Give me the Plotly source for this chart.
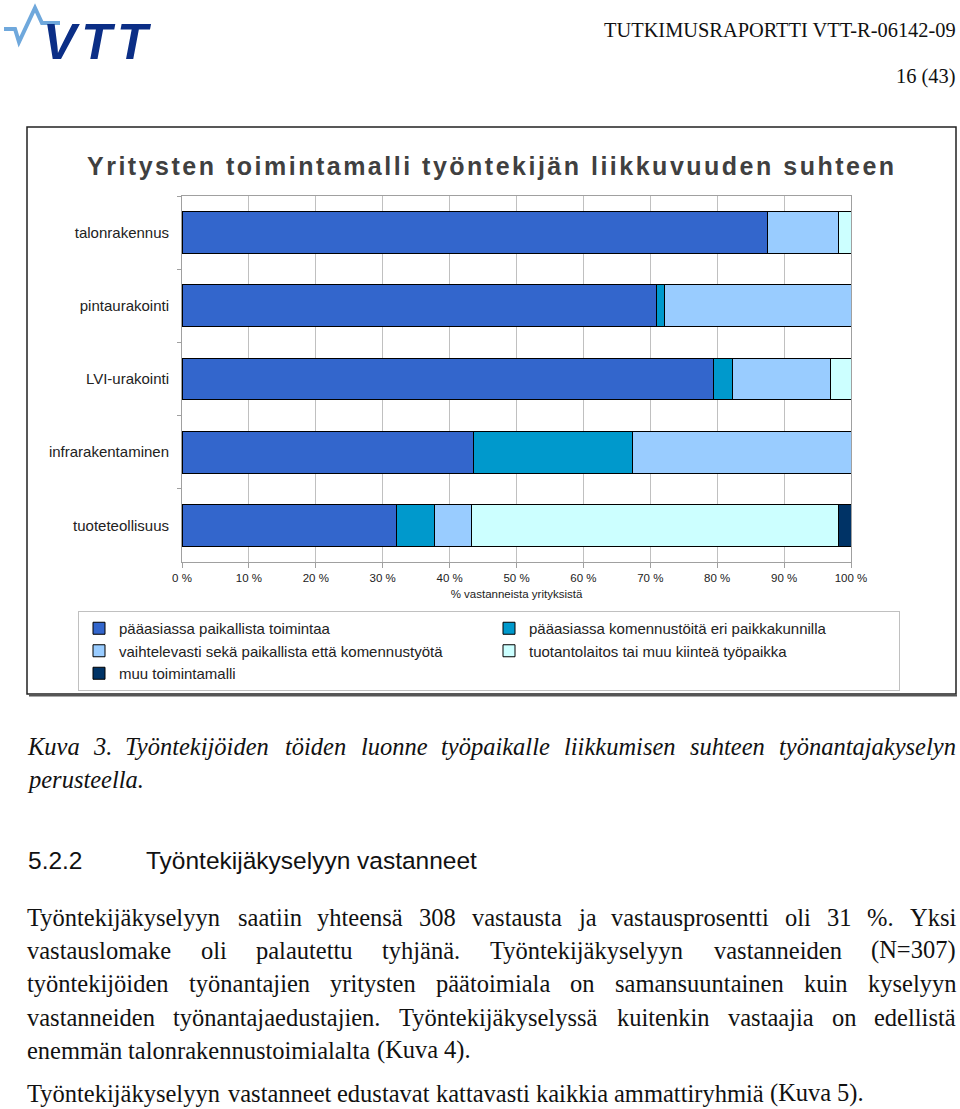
import plotly.graph_objects as go

# ---------------- data ----------------
categories = ["talonrakennus", "pintaurakointi", "LVI-urakointi", "infrarakentaminen", "tuoteteollisuus"]
series_names = [
    "pääasiassa paikallista toimintaa",
    "pääasiassa komennustöitä eri paikkakunnilla",
    "vaihtelevasti sekä paikallista että komennustyötä",
    "tuotantolaitos tai muu kiinteä työpaikka",
    "muu toimintamalli",
]
paikallista = [87.5, 71.0, 79.4, 43.5, 32.0]
komennus = [0.0, 1.1, 2.9, 23.9, 5.7]
vaihtelevasti = [10.6, 27.9, 14.7, 32.6, 5.6]
tuotantolaitos = [1.9, 0.0, 3.0, 0.0, 54.8]
muu = [0.0, 0.0, 0.0, 0.0, 1.9]
series_values = [paikallista, komennus, vaihtelevasti, tuotantolaitos, muu]
colors = ["#3366CC", "#0099CC", "#99CCFF", "#CCFFFF", "#003366"]
tick_vals = [0, 10, 20, 30, 40, 50, 60, 70, 80, 90, 100]
tick_labels = ["0 %", "10 %", "20 %", "30 %", "40 %", "50 %", "60 %", "70 %", "80 %", "90 %", "100 %"]

chart_title = "Yritysten toimintamalli työntekijän liikkuvuuden suhteen"
x_title = "% vastanneista yrityksistä"
header_code = "TUTKIMUSRAPORTTI VTT-R-06142-09"
header_page = "16 (43)"
caption_lines = [
    "Kuva 3. Työntekijöiden töiden luonne työpaikalle liikkumisen suhteen työnantajakyselyn",
    "perusteella.",
]
section_no = "5.2.2"
section_title = "Työntekijäkyselyyn vastanneet"
body_lines = [
    "Työntekijäkyselyyn saatiin yhteensä 308 vastausta ja vastausprosentti oli 31 %. Yksi",
    "vastauslomake oli palautettu tyhjänä. Työntekijäkyselyyn vastanneiden (N=307)",
    "työntekijöiden työnantajien yritysten päätoimiala on samansuuntainen kuin kyselyyn",
    "vastanneiden työnantajaedustajien. Työntekijäkyselyssä kuitenkin vastaajia on edellistä",
    "enemmän talonrakennustoimialalta (Kuva 4).",
]
body_last = "Työntekijäkyselyyn vastanneet edustavat kattavasti kaikkia ammattiryhmiä (Kuva 5)."

# ---------------- layout helpers ----------------
W, H = 960, 1109
L, R, T, B = 182, 851, 196, 562


def px(x):
    return (x - L) / (R - L)


def py(y):
    return (B - y) / (B - T)


SANS = "Liberation Sans, Arial, sans-serif"
SERIF = "Liberation Serif, Times New Roman, serif"

ROMAN = {' ': 250, 'a': 444, 'b': 500, 'c': 444, 'd': 500, 'e': 444, 'f': 333, 'g': 500, 'h': 500,
         'i': 278, 'j': 278, 'k': 500, 'l': 278, 'm': 778, 'n': 500, 'o': 500, 'p': 500, 'q': 500,
         'r': 333, 's': 389, 't': 278, 'u': 500, 'v': 500, 'w': 722, 'x': 500, 'y': 500, 'z': 444,
         'ä': 444, 'ö': 500, 'K': 722, 'N': 722, 'T': 611, 'Y': 722, '%': 833, '.': 250, '(': 333,
         ')': 333, '=': 564}
ITALIC = {' ': 250, 'a': 500, 'b': 500, 'c': 444, 'd': 500, 'e': 444, 'f': 278, 'g': 500, 'h': 500,
          'i': 278, 'j': 278, 'k': 444, 'l': 278, 'm': 722, 'n': 500, 'o': 500, 'p': 500, 'q': 500,
          'r': 389, 's': 389, 't': 278, 'u': 500, 'v': 444, 'w': 667, 'x': 444, 'y': 444, 'z': 389,
          'ä': 500, 'ö': 500, 'K': 667, 'T': 556, '.': 250}
for d in "0123456789":
    ROMAN[d] = 500
    ITALIC[d] = 500

TXT = 24.5
X0, X1 = 27, 956

annotations = []


def text_line(line, y, table, italic=False, justify=True):
    words = line.split(" ")
    widths = [sum(table.get(c, 500) for c in w) / 1000 * TXT for w in words]
    if justify and len(words) > 1:
        gap = (X1 - X0 - sum(widths)) / (len(words) - 1)
    else:
        gap = 0.25 * TXT
    x = X0
    for i, (w, wd) in enumerate(zip(words, widths)):
        t = "<i>%s</i>" % w if italic else w
        last = justify and i == len(words) - 1 and len(words) > 1
        annotations.append(dict(
            text=t, x=px(X1 if last else x), y=py(y), xref="paper", yref="paper",
            xanchor="right" if last else "left", yanchor="middle", showarrow=False,
            borderpad=0, borderwidth=0,
            font=dict(family=SERIF, size=TXT, color="#111111")))
        x += wd + gap


# ---------------- figure ----------------
fig = go.Figure()
for name, vals, col in zip(series_names, series_values, colors):
    fig.add_trace(go.Bar(
        y=categories, x=vals, name=name, orientation="h",
        marker=dict(color=col, line=dict(color="#000000", width=1)),
    ))

# chart title
annotations.append(dict(
    text='<b><span style="letter-spacing:2.5px">%s</span></b>' % chart_title,
    x=px(492), y=py(166), xref="paper", yref="paper", xanchor="center", yanchor="middle",
    showarrow=False, font=dict(family=SANS, size=25, color="#404040")))

# header
annotations.append(dict(text=header_code, x=px(957), y=py(30), xref="paper", yref="paper",
                        xanchor="right", yanchor="middle", showarrow=False, borderpad=0,
                        font=dict(family=SERIF, size=20.4, color="#111111")))
annotations.append(dict(text=header_page, x=px(956), y=py(77), xref="paper", yref="paper",
                        xanchor="right", yanchor="middle", showarrow=False, borderpad=0,
                        font=dict(family=SERIF, size=20.4, color="#111111")))
# logo letters
annotations.append(dict(text='<b><i><span style="letter-spacing:5px">VTT</span></i></b>',
                        x=px(42), y=py(42), xref="paper", yref="paper",
                        xanchor="left", yanchor="middle", showarrow=False, borderpad=0,
                        font=dict(family=SANS, size=50, color="#0b2e86")))

# caption
text_line(caption_lines[0], 746, ITALIC, italic=True, justify=True)
text_line(caption_lines[1], 779, ITALIC, italic=True, justify=False)

# section heading
annotations.append(dict(text=section_no, x=px(27), y=py(860), xref="paper", yref="paper",
                        xanchor="left", yanchor="middle", showarrow=False, borderpad=0,
                        font=dict(family=SANS, size=24.5, color="#111111")))
annotations.append(dict(text=section_title, x=px(145), y=py(860), xref="paper", yref="paper",
                        xanchor="left", yanchor="middle", showarrow=False, borderpad=0,
                        font=dict(family=SANS, size=24.5, color="#111111")))

# body
body_y = [917, 950, 983, 1017, 1050]
for i, (ln, yy) in enumerate(zip(body_lines, body_y)):
    text_line(ln, yy, ROMAN, justify=(i < len(body_lines) - 1))
text_line(body_last, 1093, ROMAN, justify=False)

shapes = [
    # chart box
    dict(type="rect", xref="paper", yref="paper", x0=px(27), x1=px(956), y0=py(694), y1=py(127),
         line=dict(color="#222222", width=1.5), layer="below"),
    dict(type="line", xref="paper", yref="paper", x0=px(29), x1=px(957), y0=py(695.5), y1=py(695.5),
         line=dict(color="#555555", width=2)),
    # logo pulse
    dict(type="path", xref="paper", yref="paper",
         path="M %f,%f L %f,%f L %f,%f L %f,%f L %f,%f L %f,%f" % (
             px(4), py(29), px(15), py(29), px(19), py(42), px(35), py(8), px(42), py(23), px(60), py(23)),
         line=dict(color="#6fa8dc", width=4)),
]

fig.update_layout(
    width=W, height=H,
    margin=dict(l=L, r=W - R, t=T, b=H - B),
    paper_bgcolor="white", plot_bgcolor="white",
    barmode="stack", bargap=0.43,
    font=dict(family=SANS, color="#222222"),
    showlegend=True,
    legend=dict(orientation="h", x=px(78), y=py(611), xanchor="left", yanchor="top",
                bordercolor="#c0c0c0", borderwidth=1, font=dict(size=15, color="#222222"),
                entrywidth=365, entrywidthmode="pixels", itemwidth=30, traceorder="normal",
                bgcolor="white"),
    xaxis=dict(range=[0, 100], tickvals=tick_vals, ticktext=tick_labels,
               showgrid=True, gridcolor="#c0c0c0", gridwidth=1, zeroline=False,
               showline=True, linecolor="#a0a0a0", mirror=True,
               ticks="outside", ticklen=5, tickcolor="#a0a0a0",
               tickfont=dict(size=11.5, color="#222222"),
               title=dict(text=x_title, font=dict(size=11.5, color="#222222"), standoff=7),
               fixedrange=True),
    yaxis=dict(autorange="reversed", showgrid=False, showline=True, linecolor="#a0a0a0", mirror=True,
               ticks="outside", ticklen=4, tickcolor="#a0a0a0", tickson="boundaries",
               tickfont=dict(size=15, color="#222222"), ticklabelstandoff=9, fixedrange=True),
    annotations=annotations,
    shapes=shapes,
)

fig.write_html("out.html")
